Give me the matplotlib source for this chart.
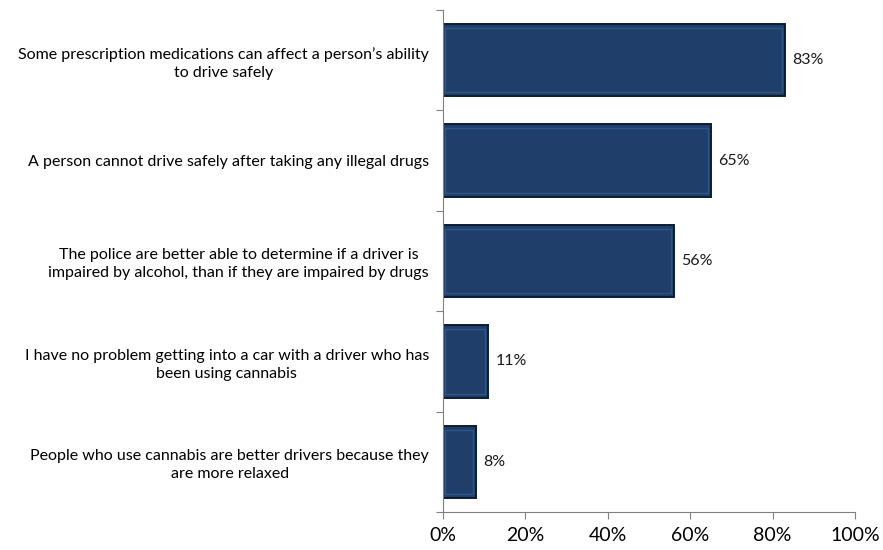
import matplotlib.pyplot as plt
import numpy as np

statements = [
    "Some prescription medications can affect a person\u2019s ability\nto drive safely",
    "A person cannot drive safely after taking any illegal drugs",
    "The police are better able to determine if a driver is\nimpaired by alcohol, than if they are impaired by drugs",
    "I have no problem getting into a car with a driver who has\nbeen using cannabis",
    "People who use cannabis are better drivers because they\nare more relaxed",
]
agree_pct = [83, 65, 56, 11, 8]
x_ticks = [0, 20, 40, 60, 80, 100]

plt.rcParams['font.family'] = ['Lato', 'DejaVu Sans']

fig = plt.figure(figsize=(8.83, 5.5), dpi=100)
ax = fig.add_axes([0.5017, 0.069, 0.4666, 0.913])

y = np.arange(len(statements))
ax.barh(y, agree_pct, height=0.72, color='#1F3F6A', edgecolor='#0C1C33', linewidth=1.4, zorder=2)
# bevel highlight
ax.barh(y, np.array(agree_pct) - 1.2, left=0.5, height=0.64, color='none',
        edgecolor='#2E5585', linewidth=1.0, zorder=3)

for yi, v in zip(y, agree_pct):
    ax.text(v + 1.8, yi, f"{v}%", va='center', ha='left', fontsize=11.5, color='#1a1a1a')

ax.set_xlim(0, 100)
ax.set_ylim(len(statements) - 0.5, -0.5)
ax.set_xticks(x_ticks)
ax.set_xticklabels([f"{t}%" for t in x_ticks], fontsize=14)

ax.set_yticks(np.arange(-0.5, len(statements)), labels=[])
ax.set_yticks(y, minor=True)
ax.set_yticklabels(statements, minor=True, fontsize=11.5, multialignment='center',
                   linespacing=1.35)
ax.tick_params(axis='y', which='minor', length=0, pad=10)
ax.tick_params(axis='y', which='major', length=5, color='#808080')
ax.tick_params(axis='x', length=5, color='#808080', pad=6)

for s in ['top', 'right']:
    ax.spines[s].set_visible(False)
for s in ['left', 'bottom']:
    ax.spines[s].set_color('#808080')

fig.savefig('out.png', dpi=100)
